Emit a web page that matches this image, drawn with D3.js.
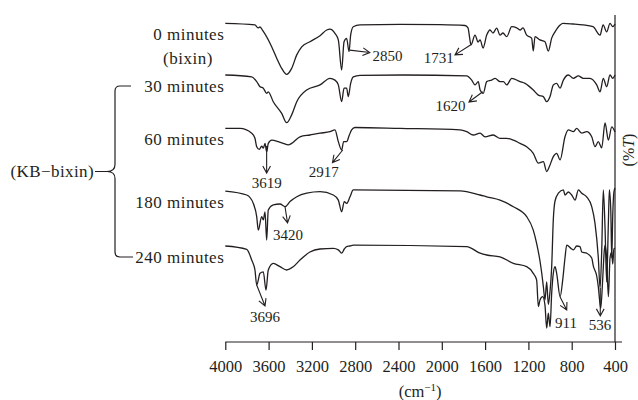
<!DOCTYPE html>
<html>
<head>
<meta charset="utf-8">
<script src="https://cdn.jsdelivr.net/npm/d3@7/dist/d3.min.js"></script>
<style>
  body { margin: 0; background: #fff; }
  svg text { font-family: "Liberation Serif", "Times New Roman", serif; fill: #231f20; }
</style>
</head>
<body>
<svg id="chart" width="638" height="400"></svg>
<script>
// IR spectra, [wavenumber cm-1, stacked transmittance (arbitrary units, offsets included)]
var spec0 = [[4000,106.2],[3726,105.7],[3698,104.7],[3680,105],[3652,103.7],[3587,99.6],[3525,94.6],[3479,91.2],[3433,89.2],[3387,91.2],[3340,95.7],[3294,98.4],[3218,100.1],[3125,102.1],[3063,104],[3033,104.3],[2987,102.9],[2956,100.7],[2925,90.7],[2903,100.1],[2879,101.2],[2857,96.8],[2842,102.3],[2818,105.1],[2756,105.7],[2386,105.9],[2017,105.8],[1786,105.5],[1758,104.7],[1740,100.7],[1731,99],[1693,102.3],[1665,100],[1646,100.7],[1619,98],[1585,102.3],[1555,104],[1527,103],[1493,104.6],[1462,102.3],[1435,103],[1400,101.8],[1354,105.1],[1308,104.7],[1277,104],[1250,104.7],[1216,102.3],[1170,101.3],[1155,97],[1139,101.8],[1093,100.7],[1047,100.1],[1016,97],[985,101.3],[954,103.4],[907,105.7],[880,106.2],[788,106],[695,105.7],[603,105.1],[538,102.3],[510,105.7],[477,103.4],[446,106.2],[421,105.1],[400,106]];
var spec30 = [[4000,89],[3756,88.4],[3710,86.8],[3679,85.1],[3649,84.6],[3618,82.9],[3603,83.4],[3557,80.1],[3479,76.2],[3433,73.1],[3387,75.7],[3340,80.1],[3248,84],[3125,85.7],[3033,87.9],[2987,87.3],[2956,85.7],[2925,80.1],[2903,84.6],[2879,84.6],[2864,81.8],[2842,86.2],[2818,88.4],[2756,88.9],[2356,89],[1770,88.7],[1724,87.3],[1693,85.7],[1663,86.8],[1646,84],[1617,82.9],[1585,86.8],[1539,87.3],[1508,87.9],[1462,86.8],[1431,86.8],[1400,85.7],[1354,87.9],[1277,86.8],[1231,86.2],[1155,84],[1108,82.3],[1062,81.8],[1031,80.1],[1000,81.8],[970,85.7],[939,86.2],[908,84.6],[877,87.3],[831,89],[785,87.9],[739,88.7],[693,87.9],[631,87.9],[569,85.7],[538,83.4],[508,87.9],[477,85.1],[446,89],[421,87.9],[400,89]];
var spec60 = [[4000,71.2],[3864,71.2],[3756,69.6],[3726,67.9],[3710,65.1],[3686,64.2],[3664,65.3],[3649,64.6],[3633,66.2],[3618,63.4],[3603,66.2],[3571,67.3],[3510,66.8],[3464,66.2],[3418,65.7],[3387,66.2],[3310,68.4],[3218,69],[3125,69.6],[3033,70.1],[2987,70.7],[2956,66.8],[2925,64],[2907,66.8],[2879,66.8],[2854,69],[2833,70.7],[2802,71.5],[2386,71.2],[1832,70.7],[1770,70.1],[1709,69],[1646,69.6],[1601,68.4],[1524,69],[1462,67.9],[1400,67.9],[1339,67.3],[1277,66.2],[1216,65.1],[1155,62.9],[1108,59.6],[1062,60.1],[1031,56.8],[1007,58.4],[970,61.8],[939,62.9],[907,60.7],[862,68.4],[831,70.7],[785,70.1],[754,71.2],[707,69.6],[662,70.1],[615,68.4],[585,65.1],[554,66.8],[523,64.7],[492,73],[461,67.3],[430,71.7],[400,70]];
var spec180 = [[4000,50.3],[3802,49],[3741,46.2],[3710,41.8],[3695,37.3],[3664,41.8],[3649,40.7],[3633,43.4],[3618,34],[3603,44],[3557,45.7],[3495,46],[3448,45.1],[3402,46.8],[3340,48.4],[3248,49.6],[3125,50.1],[3002,49],[2956,47.3],[2925,43.4],[2901,46.8],[2879,46.2],[2848,48.4],[2818,50.7],[1832,50.4],[1646,49],[1585,48.4],[1462,47.3],[1339,45.1],[1216,41.8],[1155,37.3],[1124,32.9],[1093,27],[1077,23],[1062,18.5],[1047,14],[1031,20],[1016,12.5],[1000,17],[985,25],[970,40.7],[954,47],[923,49.6],[877,50.7],[862,49],[831,50],[800,49],[769,47.3],[738,50.7],[707,49.6],[662,48.4],[615,45.1],[585,39.6],[554,28],[538,18],[523,30],[508,50.7],[492,38],[477,20],[461,40],[452,50.7],[439,44],[430,28],[421,42],[410,50],[400,51.3]];
var spec240 = [[4000,32],[3802,30.9],[3756,27.3],[3726,24],[3710,19],[3679,22.9],[3649,23.4],[3624,17.3],[3603,24],[3557,26.2],[3495,25.1],[3433,24],[3372,25.1],[3310,27.3],[3218,30],[3125,31],[3002,31.2],[2956,30.7],[2925,29.6],[2901,31],[2879,31.8],[2848,32],[2818,32.3],[1770,31.8],[1646,29.6],[1585,29],[1462,28.4],[1339,26.2],[1216,25.1],[1155,22.9],[1124,20.7],[1108,11.8],[1093,14],[1068,15.1],[1047,12.3],[1031,4.6],[1016,9.6],[1000,5.1],[985,16.2],[970,22.9],[954,25.1],[939,22.9],[907,15.1],[883,20.7],[862,28],[846,32.3],[800,31],[785,30.7],[754,32],[723,31.8],[707,30],[662,29.6],[615,28],[600,25.3],[569,22],[554,18.4],[532,11.2],[514,20.7],[500,30],[492,32.3],[477,28],[461,15.1],[446,28],[430,30],[421,26],[410,31],[400,31.3]];

var seriesNames = ["0 minutes", "30 minutes", "60 minutes", "180 minutes", "240 minutes"];
var seriesData = [spec0, spec30, spec60, spec180, spec240];
var xTicks = [4000, 3600, 3200, 2800, 2400, 2000, 1600, 1200, 800, 400];

// peak labels: arrow from -> to, text at
var peaks = [
  {label: "2850", from: [2850, 97.3], to: [2665, 96.5], at: [2640, 95.5], anchor: "start"},
  {label: "1731", from: [1735, 99],   to: [1878, 95.7], at: [1890, 94.7], anchor: "end"},
  {label: "1620", from: [1622, 83.4], to: [1749, 80],   at: [1780, 78.7], anchor: "end"},
  {label: "3619", from: [3618, 65.3], to: [3618, 56.3], at: [3618, 53],   anchor: "middle"},
  {label: "2917", from: [2915, 64],   to: [3010, 59.8], at: [3090, 56.8], anchor: "middle"},
  {label: "3420", from: [3448, 45],   to: [3425, 39.7], at: [3420, 35.7], anchor: "middle"},
  {label: "3696", from: [3710, 19],   to: [3633, 12],   at: [3633, 8.3],  anchor: "middle"},
  {label: "911",  from: [907, 15],    to: [846, 10.7],  at: [853, 6.3],   anchor: "middle"},
  {label: "536",  from: [536, 18],    to: [536, 8.7],   at: [538, 5.7],   anchor: "middle"}
];

var svg = d3.select("#chart");
var ink = "#231f20";

var x = d3.scaleLinear().domain([4000, 400]).range([225.3, 615]);
var y = d3.scaleLinear().domain([0, 109]).range([342, 15]);

// spectra
var line = d3.line()
  .x(function(d) { return x(d[0]); })
  .y(function(d) { return y(d[1]); })
  .curve(d3.curveMonotoneX);

svg.append("g").selectAll("path")
  .data(seriesData)
  .enter().append("path")
  .attr("d", line)
  .attr("fill", "none")
  .attr("stroke", ink)
  .attr("stroke-width", 1.3)
  .attr("stroke-linejoin", "round");

// bottom axis
var xAxis = d3.axisBottom(x).tickValues(xTicks).tickFormat(d3.format("d"))
  .tickSize(8).tickSizeOuter(0).tickPadding(10);
var gx = svg.append("g").attr("transform", "translate(0," + y(0) + ")").call(xAxis);
gx.select(".domain").remove();
gx.selectAll(".tick line").attr("stroke", ink).attr("stroke-width", 1.2);
gx.selectAll(".tick text").attr("fill", ink).style("font-size", "16.5px")
  .style("font-family", '"Liberation Serif", "Times New Roman", serif');
svg.append("line")
  .attr("x1", x(4000)).attr("x2", x(400) + 7)
  .attr("y1", y(0)).attr("y2", y(0))
  .attr("stroke", ink).attr("stroke-width", 1.2);
// right frame line
svg.append("line")
  .attr("x1", x(400)).attr("x2", x(400))
  .attr("y1", y(109)).attr("y2", y(0))
  .attr("stroke", ink).attr("stroke-width", 1.2);

// axis titles
var xt = svg.append("text").attr("x", x(2200)).attr("y", 397)
  .attr("text-anchor", "middle").style("font-size", "16.5px");
xt.append("tspan").text("(cm");
xt.append("tspan").attr("dy", -6).style("font-size", "11px").text("\u22121");
xt.append("tspan").attr("dy", 6).text(")");

var yt = svg.append("text")
  .attr("transform", "translate(634,150) rotate(-90)")
  .attr("text-anchor", "middle").style("font-size", "16px");
yt.append("tspan").text("(%");
yt.append("tspan").style("font-style", "italic").text("T");
yt.append("tspan").text(")");

// series labels
var labelY = seriesData.map(function(d) { return y(d[0][1]) + 11; });
svg.append("g").selectAll("text")
  .data(seriesNames)
  .enter().append("text")
  .attr("x", x(4000) - 1)
  .attr("y", function(d, i) { return labelY[i]; })
  .attr("dy", "0.35em")
  .attr("text-anchor", "end")
  .style("font-size", "17px")
  .style("letter-spacing", "0.5px")
  .text(function(d) { return d; });

svg.append("text")
  .attr("x", 188).attr("y", labelY[0] + 24).attr("dy", "0.35em")
  .attr("text-anchor", "middle")
  .style("font-size", "17px").style("letter-spacing", "0.5px")
  .text("(bixin)");

// brace grouping the KB-bixin samples
var braceTop = labelY[1], braceBot = labelY[4], braceMid = (labelY[1] + labelY[4]) / 2;
var bx = 115;
var p = d3.path();
p.moveTo(bx + 16, braceTop);
p.lineTo(bx + 5, braceTop);
p.quadraticCurveTo(bx, braceTop, bx, braceTop + 5);
p.lineTo(bx, braceMid - 7);
p.quadraticCurveTo(bx, braceMid, bx - 8, braceMid);
p.quadraticCurveTo(bx, braceMid, bx, braceMid + 7);
p.lineTo(bx, braceBot - 5);
p.quadraticCurveTo(bx, braceBot, bx + 5, braceBot);
p.lineTo(bx + 18, braceBot);
p.moveTo(bx - 20, braceMid);
p.lineTo(bx - 8, braceMid);
svg.append("path").attr("d", p.toString())
  .attr("fill", "none").attr("stroke", ink).attr("stroke-width", 1.2);

svg.append("text")
  .attr("x", bx - 21).attr("y", braceMid).attr("dy", "0.35em")
  .attr("text-anchor", "end")
  .style("font-size", "17px").style("letter-spacing", "0.4px")
  .text("(KB\u2212bixin)");

// peak arrows
var ann = svg.append("g");
peaks.forEach(function(a) {
  var x1 = x(a.from[0]), y1 = y(a.from[1]);
  var x2 = x(a.to[0]), y2 = y(a.to[1]);
  var ang = Math.atan2(y2 - y1, x2 - x1);
  var len = 8, spread = 0.5;
  var hp = d3.path();
  hp.moveTo(x1, y1);
  hp.lineTo(x2, y2);
  hp.moveTo(x2 - len * Math.cos(ang - spread), y2 - len * Math.sin(ang - spread));
  hp.lineTo(x2, y2);
  hp.lineTo(x2 - len * Math.cos(ang + spread), y2 - len * Math.sin(ang + spread));
  ann.append("path").attr("d", hp.toString())
    .attr("fill", "none").attr("stroke", ink).attr("stroke-width", 1.1);
  ann.append("text")
    .attr("x", x(a.at[0])).attr("y", y(a.at[1])).attr("dy", "0.35em")
    .attr("text-anchor", a.anchor)
    .style("font-size", "15px")
    .text(a.label);
});
</script>
</body>
</html>
